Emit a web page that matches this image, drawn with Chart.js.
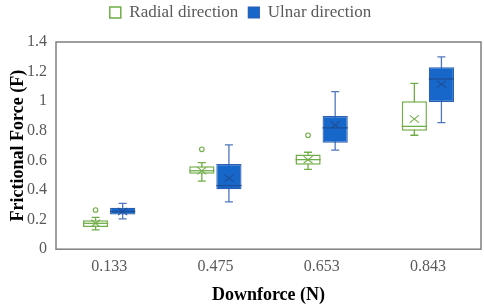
<!DOCTYPE html>
<html><head><meta charset="utf-8">
<script src="https://cdn.jsdelivr.net/npm/chart.js@4.4.0/dist/chart.umd.min.js"></script>
<style>html,body{margin:0;padding:0;background:#fff}#wrap{width:484px;height:306px}</style>
</head><body><div id="wrap"><canvas id="c" width="484" height="306"></canvas></div>
<script>
const categories = ['0.133','0.475','0.653','0.843'];
const yTicks = [0,0.2,0.4,0.6,0.8,1,1.2,1.4];
const yTickLabels = ['0','0.2','0.4','0.6','0.8','1','1.2','1.4'];

const radialMin    = [0.13, 0.46, 0.54, 0.77];
const radialQ1     = [0.15, 0.51, 0.57, 0.80];
const radialMedian = [0.175,0.53, 0.605,0.83];
const radialQ3     = [0.195,0.56, 0.64, 1.00];
const radialMax    = [0.215,0.585,0.655,1.12];
const radialMean   = [0.175,0.53, 0.605,0.88];
const radialOutliers = [[0.265],[0.675],[0.77],[]];

const ulnarMin    = [0.205,0.32, 0.67, 0.855];
const ulnarQ1     = [0.235,0.405,0.72, 0.995];
const ulnarMedian = [0.255,0.43, 0.82, 1.15];
const ulnarQ3     = [0.28, 0.575,0.90, 1.23];
const ulnarMax    = [0.31, 0.705,1.065,1.30];
const ulnarMean   = [0.255,0.48, 0.84, 1.115];
const ulnarOutliers = [[],[],[],[]];

const GREEN='#70AD47', BLUE='#1767CA', BLUE_EDGE='#2B5FAF', BLUE_WH='#4F76BE', BLUE_MED='#1E4F98';

const stats = [
  {min:radialMin,med:radialMedian,mean:radialMean,max:radialMax,out:radialOutliers,wh:GREEN,med_c:GREEN,mean_c:GREEN},
  {min:ulnarMin,med:ulnarMedian,mean:ulnarMean,max:ulnarMax,out:ulnarOutliers,wh:BLUE_WH,med_c:BLUE_MED,mean_c:BLUE_MED}
];

const boxPlugin = {
  id:'boxextras',
  afterInit(chart){
    const l=chart.legend;
    if(l){const f=l.fit; l.fit=function(){f.call(this); this.height=48;};}
  },
  beforeDatasetsDraw(chart){
    const ctx=chart.ctx, ys=chart.scales.y;
    chart.data.datasets.forEach((ds,di)=>{
      const meta=chart.getDatasetMeta(di), st=stats[di];
      meta.data.forEach((bar,i)=>{
        const x=bar.x;
        const yMin=ys.getPixelForValue(st.min[i]), yMax=ys.getPixelForValue(st.max[i]);
        ctx.save(); ctx.strokeStyle=st.wh; ctx.lineWidth=1.3;
        ctx.beginPath();
        ctx.moveTo(x,yMin); ctx.lineTo(x,yMax);
        ctx.moveTo(x-4,yMin); ctx.lineTo(x+4,yMin);
        ctx.moveTo(x-4,yMax); ctx.lineTo(x+4,yMax);
        ctx.stroke(); ctx.restore();
      });
    });
  },
  afterDatasetsDraw(chart){
    const ctx=chart.ctx, ys=chart.scales.y;
    chart.data.datasets.forEach((ds,di)=>{
      const meta=chart.getDatasetMeta(di), st=stats[di];
      meta.data.forEach((bar,i)=>{
        const x=bar.x, w=bar.width;
        const yMed=ys.getPixelForValue(st.med[i]);
        ctx.save();
        ctx.strokeStyle=st.med_c; ctx.lineWidth=1.3;
        ctx.beginPath(); ctx.moveTo(x-w/2,yMed); ctx.lineTo(x+w/2,yMed); ctx.stroke();
        const yMean=ys.getPixelForValue(st.mean[i]);
        ctx.strokeStyle=st.mean_c; ctx.lineWidth=1.1;
        const s=4.5;
        ctx.beginPath();
        ctx.moveTo(x-s,yMean-s*0.8); ctx.lineTo(x+s,yMean+s*0.8);
        ctx.moveTo(x-s,yMean+s*0.8); ctx.lineTo(x+s,yMean-s*0.8);
        ctx.stroke();
        ctx.strokeStyle=st.wh; ctx.lineWidth=1.1;
        st.out[i].forEach(v=>{
          const yo=ys.getPixelForValue(v);
          ctx.beginPath(); ctx.arc(x,yo,2.3,0,Math.PI*2); ctx.stroke();
        });
        ctx.restore();
      });
    });
  },
  afterDraw(chart){
    const a=chart.chartArea, ctx=chart.ctx;
    ctx.save(); ctx.strokeStyle='#7F7F7F'; ctx.lineWidth=1.5;
    ctx.strokeRect(a.left,a.top,a.right-a.left,a.bottom-a.top);
    ctx.restore();
  }
};

new Chart(document.getElementById('c'),{
  type:'bar',
  data:{
    labels:categories,
    datasets:[
      {label:'Radial direction',data:radialQ1.map((q,i)=>[q,radialQ3[i]]),backgroundColor:'#ffffff',borderColor:GREEN,borderWidth:1.5,borderSkipped:false,categoryPercentage:0.51,barPercentage:0.93},
      {label:'Ulnar direction',data:ulnarQ1.map((q,i)=>[q,ulnarQ3[i]]),backgroundColor:BLUE,borderColor:BLUE_EDGE,borderWidth:1.2,borderSkipped:false,categoryPercentage:0.51,barPercentage:0.93}
    ]
  },
  options:{
    responsive:false,animation:false,
    layout:{padding:{left:0,right:3,top:-6,bottom:0}},
    plugins:{
      tooltip:{enabled:false},
      legend:{position:'top',labels:{font:{family:'Liberation Serif',size:17},color:'#595959',boxWidth:11,boxHeight:11,padding:10}}
    },
    scales:{
      x:{
        grid:{display:false,drawTicks:false},border:{display:false},
        ticks:{font:{family:'Liberation Serif',size:16},color:'#595959',padding:8},
        title:{display:true,text:'Downforce (N)',font:{family:'Liberation Serif',size:18,weight:'bold'},color:'#000',padding:{top:0,bottom:0}}
      },
      y:{
        min:0,max:1.4,
        afterBuildTicks(s){s.ticks=yTicks.map(v=>({value:v}));},
        grid:{display:false,drawTicks:false},border:{display:false},
        ticks:{font:{family:'Liberation Serif',size:16},color:'#595959',padding:9,callback:(v,i)=>yTickLabels[i]},
        title:{display:true,text:'Frictional Force (F)',font:{family:'Liberation Serif',size:18,weight:'bold'},color:'#000',padding:{top:8,bottom:0}},
        afterFit(s){s.width=56;}
      }
    }
  },
  plugins:[boxPlugin]
});
</script></body></html>
